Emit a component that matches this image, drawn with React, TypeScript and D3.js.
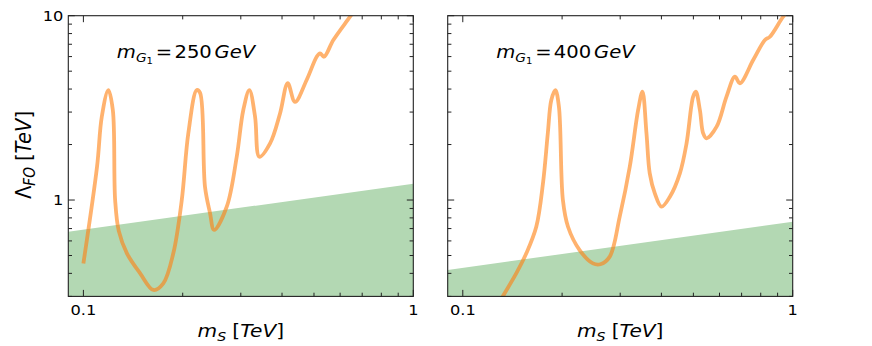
import React from "react";
import * as d3 from "d3";

// curve: m_S [TeV] vs Lambda_FO [TeV]
const xs250 = [0.1, 0.11, 0.1137, 0.119, 0.1228, 0.1248, 0.128, 0.1355, 0.1486, 0.163, 0.1747, 0.1873, 0.1987, 0.208, 0.2206, 0.2258, 0.2337, 0.242, 0.249, 0.272, 0.2916, 0.3053, 0.3185, 0.3314, 0.3415, 0.368, 0.3945, 0.4163, 0.438, 0.475, 0.5096, 0.5216, 0.5362, 0.5723, 0.643, 0.67];
const ys250 = [0.453, 1.52, 2.83, 3.95, 3.08, 1.0, 0.68, 0.514, 0.4, 0.325, 0.353, 0.514, 1.0, 2.3, 3.95, 3.81, 1.176, 0.85, 0.688, 0.92, 1.718, 3.08, 3.95, 2.83, 1.718, 2.03, 2.95, 4.3, 3.41, 4.48, 5.99, 6.25, 5.99, 7.38, 9.88, 11];

const xs400 = [0.128, 0.1322, 0.1452, 0.1558, 0.167, 0.175, 0.181, 0.1855, 0.1908, 0.1956, 0.2011, 0.2084, 0.226, 0.248, 0.2612, 0.2789, 0.299, 0.3207, 0.34, 0.3504, 0.3604, 0.3687, 0.382, 0.4002, 0.4244, 0.455, 0.4767, 0.4991, 0.5085, 0.5232, 0.5353, 0.548, 0.588, 0.63, 0.668, 0.6918, 0.759, 0.824, 0.853, 0.936, 0.98];
const ys400 = [0.27, 0.3, 0.4, 0.514, 0.716, 1.232, 2.3, 3.49, 3.95, 3.21, 1.0, 0.716, 0.535, 0.453, 0.448, 0.493, 0.812, 1.516, 3.08, 3.87, 2.3, 1.396, 1.087, 0.92, 1.042, 1.396, 2.03, 3.64, 3.87, 3.08, 2.3, 2.16, 2.5, 3.64, 4.67, 4.3, 5.75, 7.38, 7.69, 9.88, 10.8];

// excluded band (upper edge at the frame edges)
const bandX = [0.09, 1];
const band250 = [0.673, 1.226];
const band400 = [0.417, 0.763];

const xMajor = [0.1, 1];
const xMinor = [0.2, 0.3, 0.4, 0.5, 0.6, 0.7, 0.8, 0.9];
const yMajor = [1, 10];
const yMinor = [0.3, 0.4, 0.5, 0.6, 0.7, 0.8, 0.9, 2, 3, 4, 5, 6, 7, 8, 9];

const panels = [
  { id: "a", left: 68.3, xs: xs250, ys: ys250, band: band250, mass: "250", yLabels: true },
  { id: "b", left: 447.7, xs: xs400, ys: ys400, band: band400, mass: "400", yLabels: false },
];

const W = 345;
const top = 15.7;
const bottom = 296.4;
const font = "DejaVu Sans";
// the original figure is a little wider than tall, text included
const SX = 1.12;

function Panel({ p }: { p: any }) {
  const x = d3.scaleLog().domain([0.09, 1]).range([p.left, p.left + W]);
  const y = d3.scaleLog().domain([0.3, 10]).range([bottom, top]);
  const pts: [number, number][] = p.xs.map((v: number, i: number) => [x(v), y(p.ys[i])]);
  const line = d3.line().curve(d3.curveCatmullRom.alpha(0.5))(pts) || "";
  const bandPath =
    `M${x(bandX[0])},${y(p.band[0])}L${x(bandX[1])},${y(p.band[1])}` +
    `L${x(bandX[1])},${bottom}L${x(bandX[0])},${bottom}Z`;
  const r = p.left + W;
  const tickStroke = "#222";
  return (
    <g>
      <defs>
        <clipPath id={"clip" + p.id}>
          <rect x={p.left} y={top} width={W} height={bottom - top} />
        </clipPath>
      </defs>
      <path d={bandPath} fill="#b3d8b3" />
      <path
        d={line}
        clipPath={`url(#clip${p.id})`}
        fill="none"
        stroke="#ff7f0e"
        strokeOpacity={0.6}
        strokeWidth={3.8}
        strokeLinejoin="round"
      />
      {/* ticks, all inward on the four sides */}
      {xMajor.map((t) => (
        <g key={"xM" + t}>
          <line x1={x(t)} x2={x(t)} y1={bottom} y2={bottom - 6.5} stroke={tickStroke} />
          <line x1={x(t)} x2={x(t)} y1={top} y2={top + 6.5} stroke={tickStroke} />
        </g>
      ))}
      {xMinor.map((t) => (
        <g key={"xm" + t}>
          <line x1={x(t)} x2={x(t)} y1={bottom} y2={bottom - 3.7} stroke={tickStroke} />
          <line x1={x(t)} x2={x(t)} y1={top} y2={top + 3.7} stroke={tickStroke} />
        </g>
      ))}
      {yMajor.map((t) => (
        <g key={"yM" + t}>
          <line x1={p.left} x2={p.left + 6.5} y1={y(t)} y2={y(t)} stroke={tickStroke} />
          <line x1={r} x2={r - 6.5} y1={y(t)} y2={y(t)} stroke={tickStroke} />
        </g>
      ))}
      {yMinor.map((t) => (
        <g key={"ym" + t}>
          <line x1={p.left} x2={p.left + 3.7} y1={y(t)} y2={y(t)} stroke={tickStroke} />
          <line x1={r} x2={r - 3.7} y1={y(t)} y2={y(t)} stroke={tickStroke} />
        </g>
      ))}
      <rect x={p.left} y={top} width={W} height={bottom - top} fill="none" stroke="#222" strokeWidth={1.1} />
      {/* tick labels */}
      {xMajor.map((t) => (
        <g key={"xl" + t} transform={`translate(${x(t)},${bottom + 19}) scale(${SX},1)`}>
          <text textAnchor="middle" fontFamily={font} fontSize={14.5}>
            {t === 1 ? "1" : "0.1"}
          </text>
        </g>
      ))}
      {p.yLabels &&
        yMajor.map((t) => (
          <g key={"yl" + t} transform={`translate(${p.left - 5},${y(t) + 5.2}) scale(${SX},1)`}>
            <text textAnchor="end" fontFamily={font} fontSize={14.5}>
              {String(t)}
            </text>
          </g>
        ))}
      {/* annotation */}
      <g transform={`translate(${p.left + 48.5},57.5) scale(${SX},1)`}>
        <text fontFamily={font} fontSize={17.5}>
          <tspan fontStyle="italic">m</tspan>
          <tspan fontStyle="italic" fontSize={12.3} dy={4}>G</tspan>
          <tspan fontSize={9} dy={2}>1</tspan>
          <tspan dy={-6} dx={2.5}>=</tspan>
          <tspan dx={2}>{p.mass}</tspan>
          <tspan dx={2.5} fontStyle="italic">GeV</tspan>
        </text>
      </g>
      {/* x label */}
      <g transform={`translate(${p.left + W / 2},336.5) scale(${SX},1)`}>
        <text textAnchor="middle" fontFamily={font} fontSize={18}>
          <tspan fontStyle="italic">m</tspan>
          <tspan fontStyle="italic" fontSize={12.6} dy={4.5}>S</tspan>
          <tspan dy={-4.5} dx={5.5}>[</tspan>
          <tspan fontStyle="italic">TeV</tspan>
          <tspan>]</tspan>
        </text>
      </g>
    </g>
  );
}

export default function App() {
  return (
    <svg width={872} height={346} style={{ position: "absolute", left: 0, top: 0, background: "#fff" }}>
      {panels.map((p) => (
        <Panel key={p.id} p={p} />
      ))}
      <g transform={`translate(31,155) scale(${SX},1) rotate(-90)`}>
        <text textAnchor="middle" fontFamily={font} fontSize={19.5}>
          <tspan>Λ</tspan>
          <tspan fontStyle="italic" fontSize={13.7} dy={4}>FO</tspan>
          <tspan dy={-4} dx={6}>[</tspan>
          <tspan fontStyle="italic">TeV</tspan>
          <tspan>]</tspan>
        </text>
      </g>
    </svg>
  );
}
